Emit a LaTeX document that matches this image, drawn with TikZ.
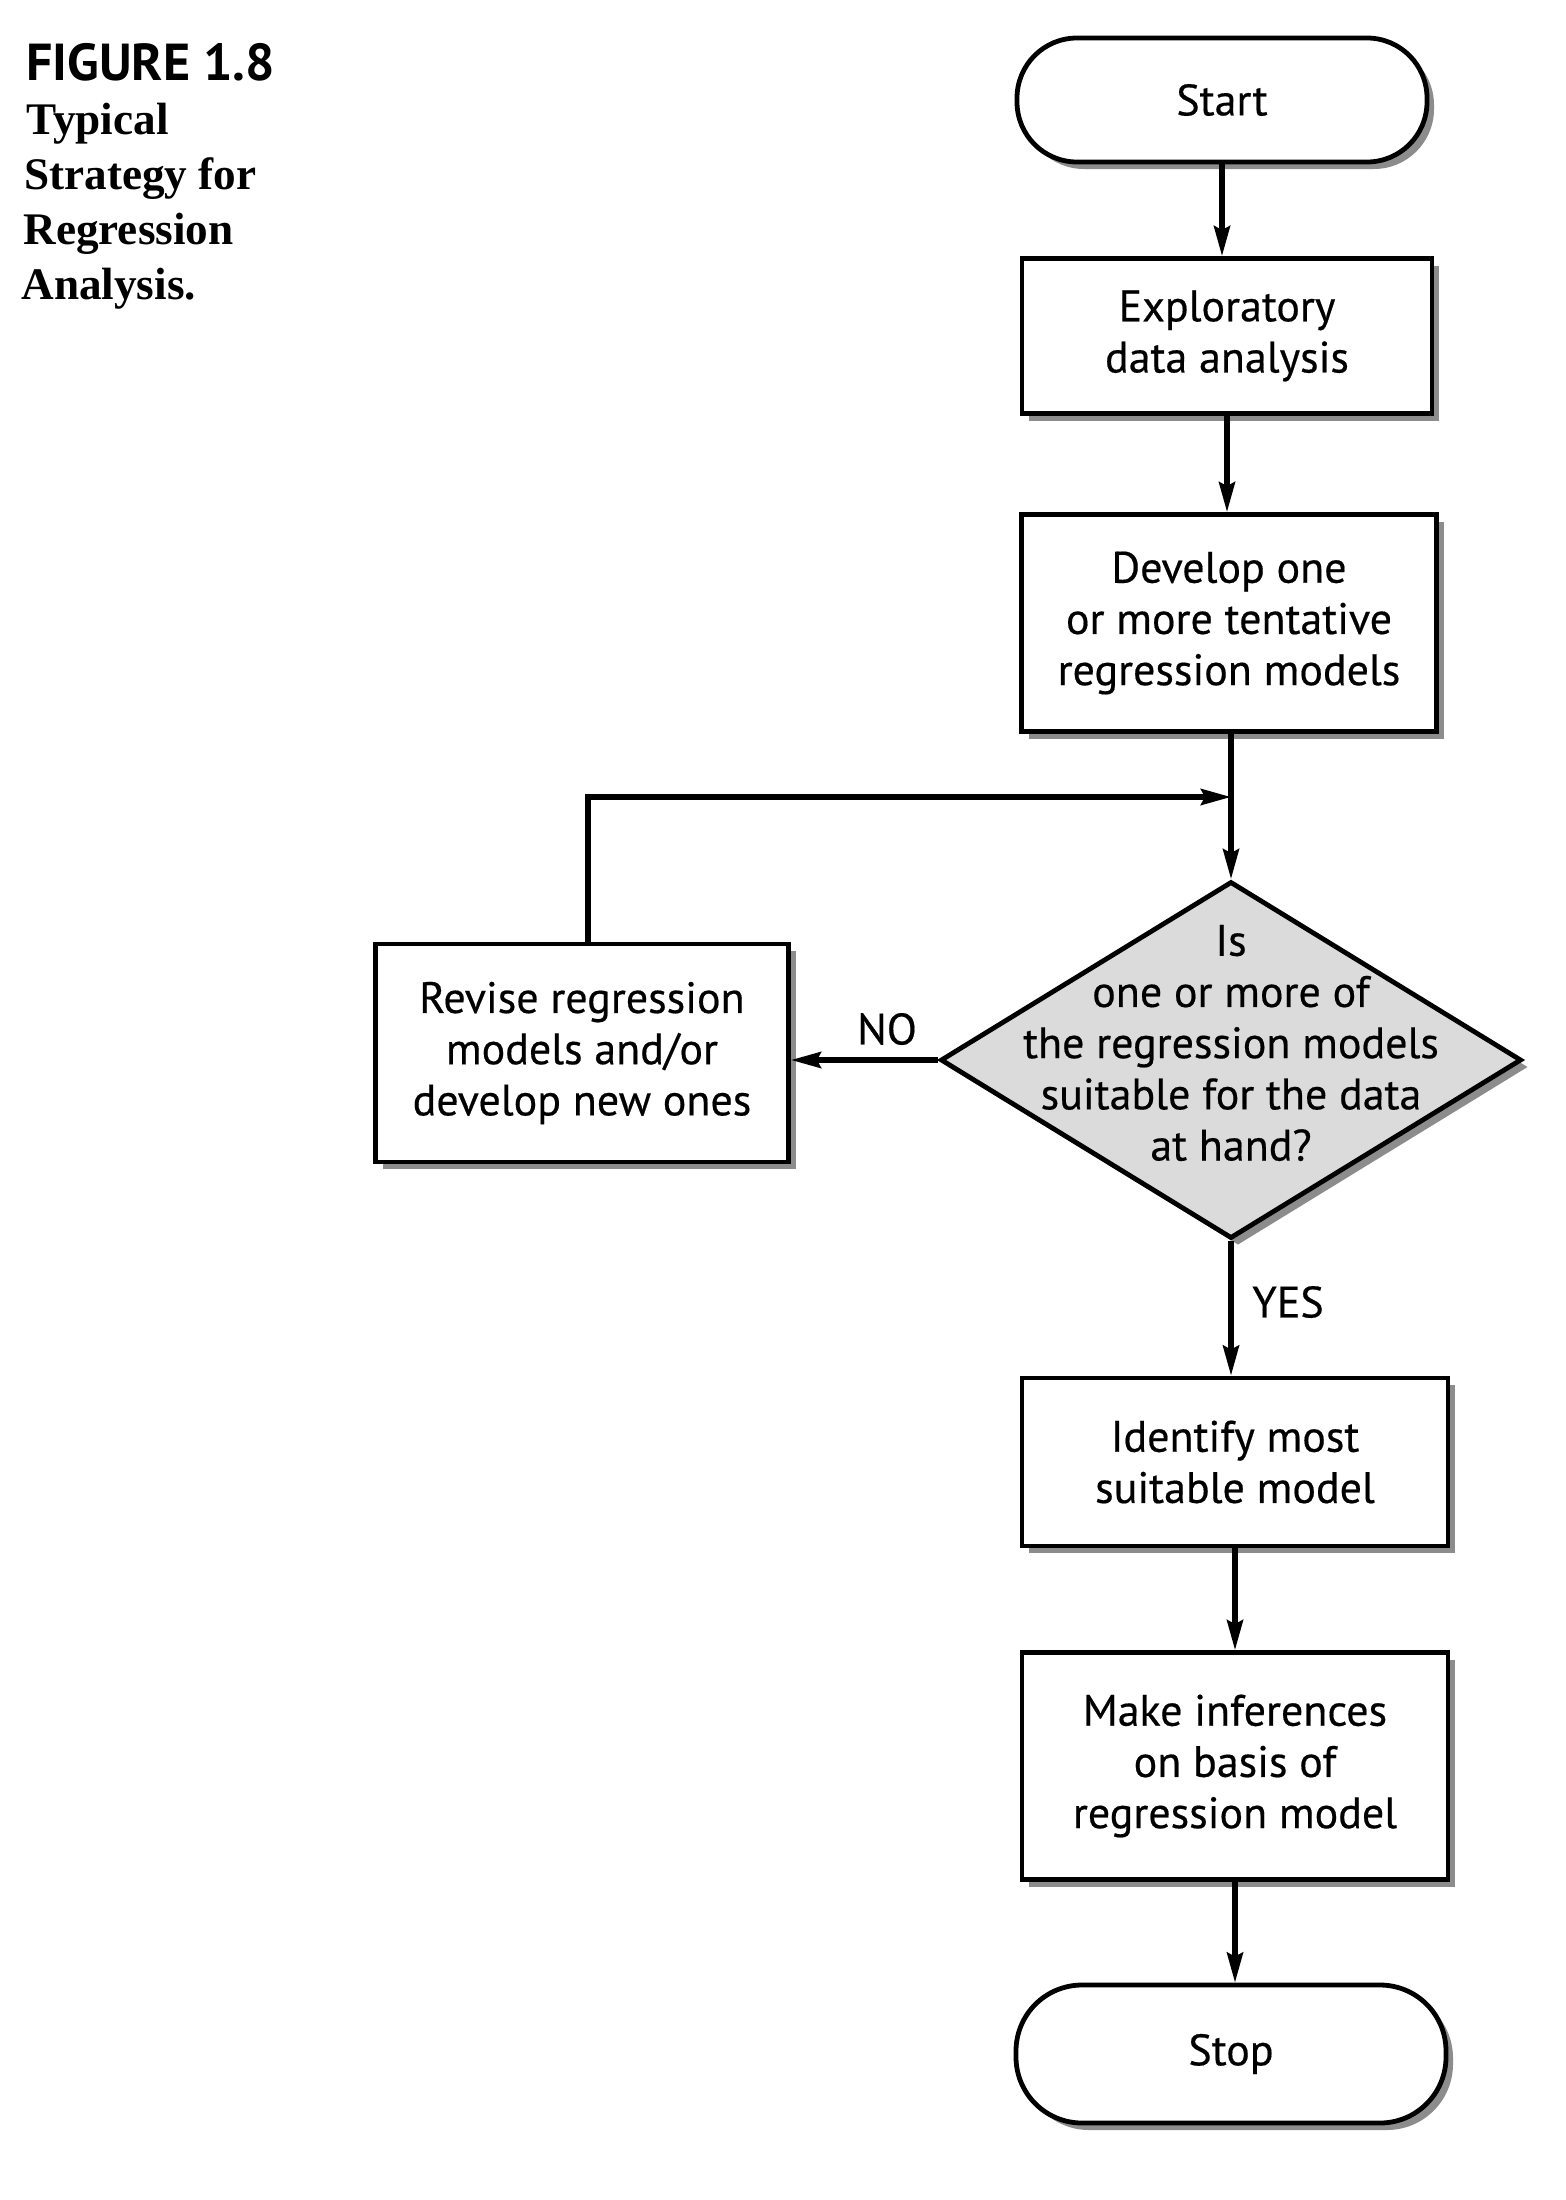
\documentclass[tikz,border=0pt]{standalone}
\usepackage{fontspec}
\setmainfont{Liberation Serif}
\newfontfamily\boxfont[FakeBold=0.4]{PT Sans}
\newfontfamily\headfont{PT Sans}
\usetikzlibrary{shapes.geometric,shadows,arrows.meta}

\tikzset{
  boxtext/.style={font=\boxfont\fontsize{22}{25.6}\selectfont, align=center},
  shadowed/.style={drop shadow={shadow xshift=3.5pt, shadow yshift=-3.5pt, fill=black!45, opacity=1}},
  procbox/.style={rectangle, draw=black, line width=2.4pt, fill=white, boxtext, shadowed, inner sep=0pt},
  terminal/.style={rectangle, rounded corners=30pt, draw=black, line width=2.4pt, fill=white, boxtext, shadowed, inner sep=0pt},
  decision/.style={diamond, draw=black, line width=2.4pt, fill=black!14, shadowed, inner sep=0pt, shape aspect=1.63},
  flow/.style={line width=2.6pt, -{Stealth[length=15pt, width=8pt, inset=2pt]}},
  branch/.style={font=\boxfont\fontsize{22}{25}\selectfont},
  capline/.style={anchor=base west, inner sep=0pt, font=\bfseries\fontsize{22.6}{27.3}\selectfont},
}

\begin{document}
\begin{tikzpicture}[x=0.5pt, y=-0.5pt]
\useasboundingbox[fill=white] (0,0) rectangle (1566,2200);

% caption
\node[anchor=base west, inner sep=0pt, font=\headfont\bfseries\fontsize{26}{28}\selectfont] (fig) at (26,80) {FIGURE 1.8};
\node[capline] (cap1) at (26,134) {Typical};
\node[capline] (cap2) at (24,189) {Strategy for};
\node[capline] (cap3) at (23,244) {Regression};
\node[capline] (cap4) at (21,299) {Analysis.};

% flow chart nodes
\node[terminal, minimum width=205pt, minimum height=62pt] (start) at (1222,100) {Start};
\node[procbox, minimum width=205pt, minimum height=77.5pt] (explore) at (1227,336) {Exploratory\\data analysis};
\node[procbox, minimum width=207.5pt, minimum height=108.5pt] (develop) at (1229,623) {Develop one\\or more tentative\\regression models};
\node[decision, minimum width=290.5pt, minimum height=178.5pt] (check) at (1231,1060) {};
\node[boxtext, inner sep=0pt] (checktext) at (1231,1043)
  {Is\\one or more of\\the regression models\\suitable for the data\\at hand?};
\node[procbox, minimum width=206.5pt, minimum height=109pt] (revise) at (582,1053) {Revise regression\\models and/or\\develop new ones};
\node[procbox, minimum width=213pt, minimum height=84pt] (identify) at (1235,1462) {Identify most\\suitable model};
\node[procbox, minimum width=213pt, minimum height=113.5pt] (infer) at (1235,1766) {Make inferences\\on basis of\\regression model};
\node[terminal, minimum width=215pt, minimum height=69pt, rounded corners=33pt] (stop) at (1231,2054) {Stop};

% connectors
\coordinate (join) at (1231,797);
\draw[flow] (start.south) -- (start.south |- explore.north);
\draw[flow] (explore.south) -- (explore.south |- develop.north);
\draw[flow] (develop.south -| check.north) -- (check.north);
\draw[flow] ([xshift=3pt]revise.north) |- (join);
\draw[flow] (check.west) -- (check.west -| revise.east);
\draw[flow] (check.south) -- (check.south |- identify.north);
\draw[flow] (identify.south) -- (identify.south |- infer.north);
\draw[flow] (infer.south) -- (infer.south |- stop.north);

% branch labels
\node[branch] (no) at (887,1029) {NO};
\node[branch] (yes) at (1288,1302) {YES};
\end{tikzpicture}
\end{document}
